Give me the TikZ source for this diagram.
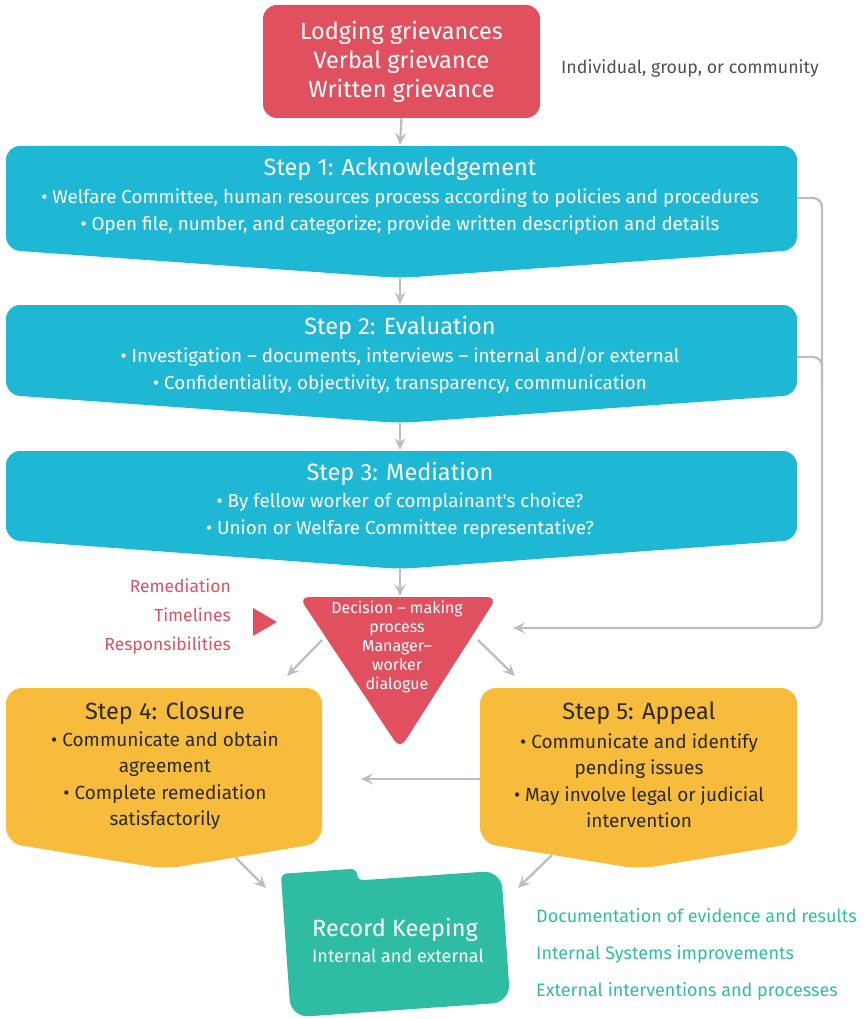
\documentclass[tikz,border=0pt]{standalone}
\usepackage{fontspec}
\setmainfont{Fira Sans}[Ligatures=TeXOff]
\usetikzlibrary{arrows.meta}
\definecolor{cred}{HTML}{E0505F}
\definecolor{ccyan}{HTML}{1EB8D4}
\definecolor{corange}{HTML}{F8BC3C}
\definecolor{cteal}{HTML}{2EBDA3}
\definecolor{cgray}{HTML}{BDBEC2}
\definecolor{ctext}{HTML}{505050}
\definecolor{cdark}{HTML}{2A2A2A}
\begin{document}
\begin{tikzpicture}[x=1pt,y=-1pt,
  arr/.style={draw=cgray, line width=2.3pt, -{Stealth[length=12pt,width=11pt,inset=4.5pt]}},
  conn/.style={draw=cgray, line width=2.3pt, rounded corners=9pt},
  ttl/.style={font=\fontsize{23.5}{26}\selectfont, text=white},
  bdy/.style={font=\fontsize{18.8}{27}\selectfont, text=white, align=center},
  obody/.style={font=\fontsize{19}{26.5}\selectfont, text=cdark, align=center},
  otitle/.style={font=\fontsize{23.5}{26}\selectfont, text=cdark},
  side/.style={font=\fontsize{18}{20}\selectfont, inner sep=0pt}
]
\useasboundingbox (0,0) rectangle (866,1019);

% top box
\node[fill=cred, rounded corners=14pt, minimum width=277pt, minimum height=113pt,
      text=white, align=center, font=\fontsize{23.5}{29}\selectfont] (griev) at (401.5,61.5)
      {Lodging grievances\\Verbal grievance\\Written grievance};
\node[side, text=ctext, anchor=west, font=\fontsize{17.8}{20}\selectfont] (indiv) at (561,68) {Individual, group, or community};

% step 1
\fill[ccyan, rounded corners=14pt] (6,146) -- (797,146) -- (797,250) -- (400,278) -- (6,250) -- cycle;
\coordinate (s1top) at (400,145);
\coordinate (s1tip) at (400,278);
\coordinate (s1r) at (797,198);
\node[ttl] (s1t) at (400,169) {Step 1: Acknowledgement};
\node[bdy] (s1b) at (400,211.5) {• Welfare Committee, human resources process according to policies and procedures\\• Open file, number, and categorize; provide written description and details};

% step 2
\fill[ccyan, rounded corners=14pt] (6,305) -- (797,305) -- (797,395) -- (400,423) -- (6,395) -- cycle;
\coordinate (s2top) at (400,304);
\coordinate (s2tip) at (400,423);
\coordinate (s2r) at (797,357);
\node[ttl] (s2t) at (400,328) {Step 2: Evaluation};
\node[bdy] (s2b) at (400,370.5) {• Investigation – documents, interviews – internal and/or external\\• Confidentiality, objectivity, transparency, communication};

% step 3
\fill[ccyan, rounded corners=14pt] (6,451) -- (797,451) -- (797,540) -- (400,569) -- (6,540) -- cycle;
\coordinate (s3top) at (400,450);
\coordinate (s3tip) at (400,569);
\node[ttl] (s3t) at (400,474) {Step 3: Mediation};
\node[bdy] (s3b) at (400,515.5) {• By fellow worker of complainant's choice?\\• Union or Welfare Committee representative?};

% decision triangle
\fill[cred, rounded corners=10pt] (299,597) -- (497,597) -- (400,749) -- cycle;
\coordinate (dectop) at (400,596);
\node[text=white, align=center, font=\fontsize{16}{19}\selectfont] (dec) at (397,647)
  {Decision – making\\process\\Manager–\\worker\\dialogue};
\node[text=cred, align=right, anchor=east, inner sep=0pt, font=\fontsize{17.5}{29}\selectfont] (remed) at (231,617)
  {Remediation\\Timelines\\Responsibilities};
\fill[cred] (253,608) -- (277,622) -- (253,636) -- cycle;

% step 4
\fill[corange, rounded corners=16pt] (6,688) -- (322,688) -- (322,843) -- (165,869) -- (6,843) -- cycle;
\node[otitle] (s4t) at (165,713) {Step 4: Closure};
\node[obody] (s4b) at (165,780.5) {• Communicate and obtain\\agreement\\• Complete remediation\\satisfactorily};
\coordinate (s4in) at (287,676);
\coordinate (s4out) at (235,857);
\coordinate (s4r) at (361,779);

% step 5
\fill[corange, rounded corners=16pt] (480,688) -- (797,688) -- (797,843) -- (639,869) -- (480,843) -- cycle;
\node[otitle] (s5t) at (639,713) {Step 5: Appeal};
\node[obody] (s5b) at (639,780.5) {• Communicate and identify\\pending issues\\• May involve legal or judicial\\intervention};
\coordinate (s5in) at (515,676);
\coordinate (s5out) at (552,855);
\coordinate (s5l) at (480,779);

% record keeping folder
\begin{scope}[shift={(396,944)}, rotate=4]
  \fill[cteal] (-110,0) [rounded corners=6pt] -- (-110,-78) -- (-34,-78) -- (-34,-66)
     [rounded corners=18pt] -- (110,-66) -- (110,66) -- (-110,66) -- cycle;
\end{scope}
\coordinate (fold1) at (266,888);
\coordinate (fold2) at (518,888);
\node[text=white, font=\fontsize{23.5}{26}\selectfont] (rec) at (395,930) {Record Keeping};
\node[text=white, font=\fontsize{18}{20}\selectfont] (recs) at (398,956) {Internal and external};
\node[side, text=cteal, anchor=west] (doc) at (536,916) {Documentation of evidence and results};
\node[side, text=cteal, anchor=west] (isys) at (536,954) {Internal Systems improvements};
\node[side, text=cteal, anchor=west] (ext) at (536,991) {External interventions and processes};

% connectors
\draw[arr] (griev.south) -- (s1top);
\draw[arr] (s1tip) -- (s2top);
\draw[arr] (s2tip) -- (s3top);
\draw[arr] (s3tip) -- (dectop);
\coordinate (fbend) at (513,628);
\draw[arr, rounded corners=9pt] (s1r) -- (822,198) -- (822,628) -- (fbend);
\draw[conn] (s2r) -- (822,357) -- (822,385);
\coordinate (decL) at (322,640);
\coordinate (decR) at (478,640);
\draw[arr] (decL) -- (s4in);
\draw[arr] (decR) -- (s5in);
\draw[arr] (s5l) -- (s4r);
\draw[arr] (s4out) -- (fold1);
\draw[arr] (s5out) -- (fold2);
\end{tikzpicture}
\end{document}
